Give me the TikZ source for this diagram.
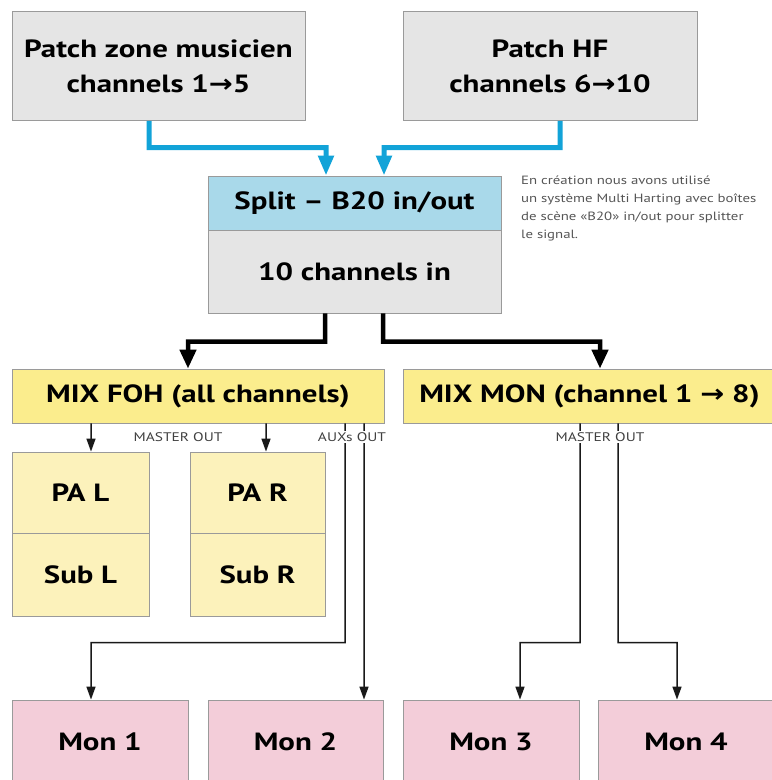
\documentclass[tikz,border=0pt]{standalone}
\usepackage{fontspec}
\setmainfont[FakeStretch=1.24]{PT Sans}
\newfontfamily\arrowfont[FakeStretch=1.15]{DejaVu Sans}
\usetikzlibrary{arrows.meta,calc}
\definecolor{boxgray}{HTML}{E5E5E5}
\definecolor{bordergray}{HTML}{9A9A9A}
\definecolor{splitblue}{HTML}{A9D9EA}
\definecolor{mixyellow}{HTML}{FBED8D}
\definecolor{payellow}{HTML}{FCF2BB}
\definecolor{monpink}{HTML}{F3CDD9}
\definecolor{cyanline}{HTML}{12A3D8}
\definecolor{notegray}{HTML}{555555}
\newcommand{\arr}{{\arrowfont\bfseries →}}
\begin{document}
\begin{tikzpicture}[x=1bp,y=1bp,
  box/.style={draw=bordergray,line width=0.8bp,inner sep=0pt,align=center,font=\fontsize{25}{35}\selectfont\bfseries},
  bluearrow/.style={draw=cyanline,line width=5bp,-{Triangle[width=15bp,length=20bp]}},
  blackarrow/.style={draw=black,line width=4.5bp,-{Triangle[width=16bp,length=19bp]}},
  thinarrow/.style={draw=black!90,line width=1.5bp,-{Triangle[width=9bp,length=13bp]}},
  outlabel/.style={fill=white,inner sep=1bp,text=black!75,font=\fontsize{12.5}{14}\selectfont}]
\useasboundingbox (0,0) rectangle (772,-780);
% top patch boxes
\node[box,fill=boxgray,minimum width=293bp,minimum height=109bp] (pz) at (158.5,-66) {Patch zone musicien\\channels 1\arr5};
\node[box,fill=boxgray,minimum width=294bp,minimum height=109bp] (hf) at (550,-66) {Patch HF\\channels 6\arr10};
% split
\node[box,fill=splitblue,minimum width=293bp,minimum height=54bp] (split) at (354.5,-203) {Split -- B20 in/out};
\node[box,fill=boxgray,minimum width=293bp,minimum height=83bp] (chin) at (354.5,-271.5) {10 channels in};
\node[anchor=north west,align=left,text=notegray,inner sep=0pt,font=\fontsize{12}{18}\selectfont] (note) at (521,-176) {En création nous avons utilisé\\un système Multi Harting avec boîtes\\de scène «B20» in/out pour splitter\\le signal.};
% mixers
\node[box,fill=mixyellow,minimum width=372bp,minimum height=54bp] (foh) at (198,-396) {MIX FOH (all channels)};
\node[box,fill=mixyellow,minimum width=373bp,minimum height=54bp] (mon) at (589.5,-396) {MIX MON (channel 1 \arr\ 8)};
% PA
\node[box,fill=payellow,minimum width=137bp,minimum height=81bp] (pal) at (80.5,-492.5) {PA L};
\node[box,fill=payellow,minimum width=137bp,minimum height=83bp] (subl) at (80.5,-574.5) {Sub L};
\node[box,fill=payellow,minimum width=135bp,minimum height=81bp] (par) at (257.5,-492.5) {PA R};
\node[box,fill=payellow,minimum width=135bp,minimum height=83bp] (subr) at (257.5,-574.5) {Sub R};
% monitors
\node[box,fill=monpink,minimum width=176bp,minimum height=84bp] (m1) at (100,-742) {Mon 1};
\node[box,fill=monpink,minimum width=175bp,minimum height=84bp] (m2) at (295.5,-742) {Mon 2};
\node[box,fill=monpink,minimum width=176bp,minimum height=84bp] (m3) at (491,-742) {Mon 3};
\node[box,fill=monpink,minimum width=176bp,minimum height=84bp] (m4) at (686,-742) {Mon 4};
% blue connectors
\draw[bluearrow] ([xshift=-9.5bp]pz.south) |- ($(split.north)+(-28.5,28)$) -- ([xshift=-28.5bp]split.north);
\draw[bluearrow] ([xshift=10bp]hf.south) |- ($(split.north)+(29.5,28)$) -- ([xshift=29.5bp]split.north);
% black connectors
\draw[blackarrow] ([xshift=-29.5bp]chin.south) |- ($(foh.north)+(-10,27)$) -- ([xshift=-10bp]foh.north);
\draw[blackarrow] ([xshift=28.5bp]chin.south) |- ($(mon.north)+(10.5,27)$) -- ([xshift=10.5bp]mon.north);
% PA arrows
\draw[thinarrow] ([xshift=-107bp]foh.south) -- ([xshift=10.5bp]pal.north);
\draw[thinarrow] ([xshift=68bp]foh.south) -- ([xshift=8.5bp]par.north);
% aux lines
\draw[thinarrow] ([xshift=147bp]foh.south) |- ($(m1.north)+(-9,57)$) -- ([xshift=-9bp]m1.north);
\draw[thinarrow] ([xshift=166bp]foh.south) -- ([xshift=68.5bp]m2.north);
% mon master lines
\draw[thinarrow] ([xshift=-9.5bp]mon.south) |- ($(m3.north)+(29,57)$) -- ([xshift=29bp]m3.north);
\draw[thinarrow] ([xshift=28.5bp]mon.south) |- ($(m4.north)+(-9,57)$) -- ([xshift=-9bp]m4.north);
% labels
\node[outlabel] (mo1) at (178,-437) {MASTER OUT};
\node[outlabel] (aux) at (352,-437) {AUXs OUT};
\node[outlabel] (mo2) at (600,-437) {MASTER OUT};
\end{tikzpicture}
\end{document}
